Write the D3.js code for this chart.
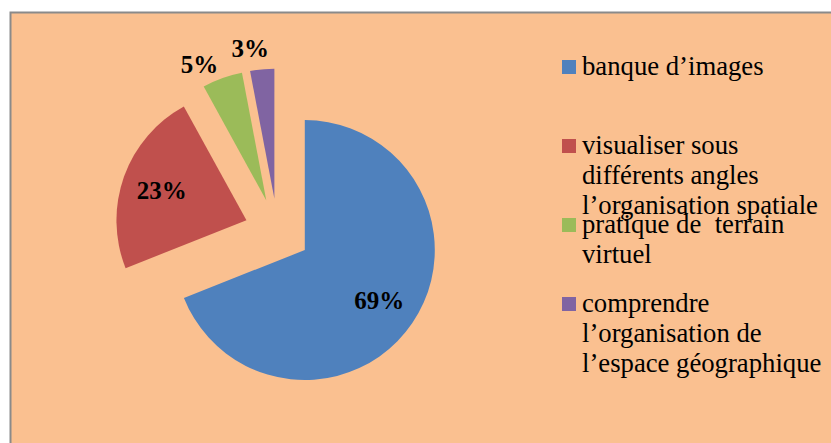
<!DOCTYPE html>
<html>
<head>
<meta charset="utf-8">
<script src="https://cdn.jsdelivr.net/npm/d3@7"></script>
<style>
  body { margin: 0; background: #fff; }
</style>
</head>
<body>
<script>
var legendLines = [
  ["banque d\u2019images"],
  ["visualiser sous", "différents angles", "l\u2019organisation spatiale"],
  ["pratique de  terrain", "virtuel"],
  ["comprendre", "l\u2019organisation de", "l\u2019espace géographique"]
];
var values = [69, 23, 5, 3];
var labels = ["69%", "23%", "5%", "3%"];
var colors = ["#4F81BD", "#C0504D", "#9BBB59", "#8064A2"];

var width = 831, height = 443;
var cx = 277.5, cy = 231.5, radius = 130, explode = 33;
var font = "'Liberation Serif'";

var svg = d3.select("body")
  .append("svg")
    .attr("width", width)
    .attr("height", height);

// chart area
svg.append("rect")
    .attr("x", 10.5)
    .attr("y", 12.5)
    .attr("width", 840)
    .attr("height", 450)
    .attr("fill", "#FAC090")
    .attr("stroke", "#8a8a8a")
    .attr("stroke-width", 2);

var pie = d3.pie().sort(null).value(function(d) { return d; });
var arcs = pie(values);
var arc = d3.arc().innerRadius(0).outerRadius(radius);

function dir(a) {
  return [Math.sin(a), -Math.cos(a)];
}
function mid(d) { return (d.startAngle + d.endAngle) / 2; }
function isInside(d) { return (d.endAngle - d.startAngle) > 0.5; }

var slices = svg.append("g")
    .attr("transform", "translate(" + cx + "," + cy + ")")
  .selectAll("g")
    .data(arcs)
    .enter()
  .append("g")
    .attr("transform", function(d) {
      var v = dir(mid(d));
      return "translate(" + (v[0] * explode) + "," + (v[1] * explode) + ")";
    });

slices.append("path")
    .attr("d", arc)
    .attr("fill", function(d, i) { return colors[i]; });

// data labels: big slices inside, small ones outside
function labelPos(d) {
  if (isInside(d)) {
    var v = dir(mid(d));
    return [v[0] * 90, v[1] * 90];
  }
  var w = dir(d.startAngle + 0.15 * (d.endAngle - d.startAngle));
  return [w[0] * 152, w[1] * 152];
}

slices.append("text")
    .attr("x", function(d) { return labelPos(d)[0]; })
    .attr("y", function(d) { return labelPos(d)[1]; })
    .attr("dy", "0.35em")
    .attr("text-anchor", "middle")
    .attr("font-size", 25)
    .attr("font-weight", "bold")
    .style("font-family", font)
    .attr("fill", "#000")
    .text(function(d, i) { return labels[i]; });

// legend
var legend = svg.append("g")
    .attr("transform", "translate(562,75)")
  .selectAll("g")
    .data(legendLines)
    .enter()
  .append("g")
    .attr("transform", function(d, i) { return "translate(0," + (i * 79) + ")"; });

legend.append("rect")
    .attr("x", 0)
    .attr("y", -15)
    .attr("width", 14)
    .attr("height", 14)
    .attr("fill", function(d, i) { return colors[i]; });

legend.append("text")
    .attr("x", 20)
    .attr("font-size", 26.7)
    .attr("fill", "#000")
    .style("font-family", font)
    .style("white-space", "pre")
  .selectAll("tspan")
    .data(function(d) { return d; })
    .enter()
  .append("tspan")
    .attr("x", 20)
    .attr("y", function(d, i) { return i * 30; })
    .text(function(d) { return d; });
</script>
</body>
</html>
